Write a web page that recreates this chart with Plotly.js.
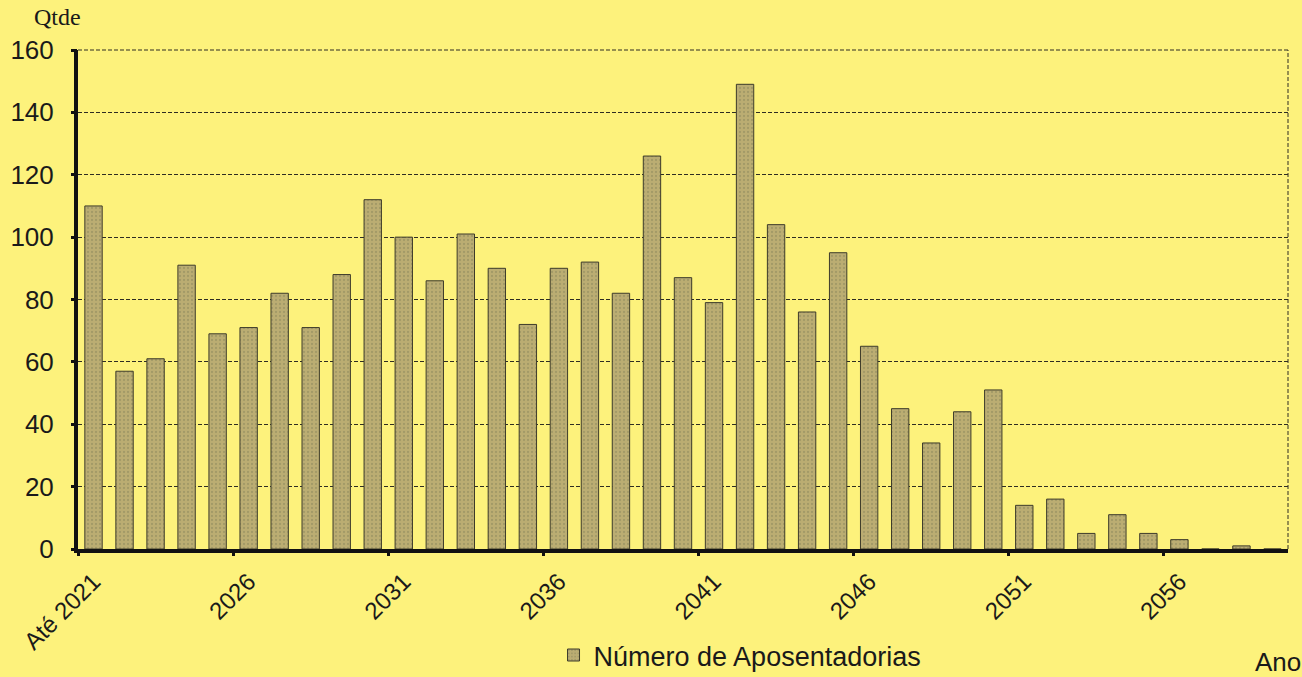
<!DOCTYPE html>
<html>
<head>
<meta charset="utf-8">
<script src="https://cdn.plot.ly/plotly-3.0.1.min.js"></script>
<style>html,body{margin:0;padding:0;background:#fdf27c;}</style>
</head>
<body>
<div id="chart" style="width:1302px;height:677px;"></div>
<script>
const categories = ["Até 2021","2022","2023","2024","2025","2026","2027","2028","2029","2030",
  "2031","2032","2033","2034","2035","2036","2037","2038","2039","2040",
  "2041","2042","2043","2044","2045","2046","2047","2048","2049","2050",
  "2051","2052","2053","2054","2055","2056","2057","2058","2059"];
const aposentadorias = [110,57,61,91,69,71,82,71,88,112,
  100,86,101,90,72,90,92,82,126,87,
  79,149,104,76,95,65,45,34,44,51,
  14,16,5,11,5,3,0,1,0];
const tickLabels = ["Até 2021","2026","2031","2036","2041","2046","2051","2056"];
const seriesName = "Número de Aposentadorias";

// tick marks sit on the left boundary of each labelled category
const boundaryTicks = tickLabels.map(l => categories.indexOf(l) - 0.5);
const xRange = [-0.5, categories.length - 0.5];
const yRange = [0, 160];

const trace = {
  type: "bar",
  x: categories,
  y: aposentadorias,
  name: seriesName,
  width: 0.56,
  marker: {
    color: "#bbad72",
    line: {color: "#3d3b2a", width: 1},
    pattern: {shape: ".", fillmode: "overlay", fgcolor: "#8a855c", size: 4, solidity: 0.25}
  },
  hoverinfo: "x+y"
};
// empty helper trace so the overlay axes (visible tick marks only) get drawn
const tickHelper = {
  type: "scatter", mode: "markers", x: [], y: [],
  xaxis: "x2", yaxis: "y2", showlegend: false, hoverinfo: "skip"
};

const font = "Liberation Sans, Arial, sans-serif";
const layout = {
  width: 1302, height: 677,
  paper_bgcolor: "#fdf27c",
  plot_bgcolor: "#fdf27c",
  margin: {l: 78, r: 14, t: 50, b: 128, autoexpand: false},
  showlegend: true,
  legend: {
    orientation: "h", x: 0.393, xanchor: "left", yref: "container", y: 0.068, yanchor: "top",
    font: {family: font, size: 27, color: "#1a1a1a"},
    bgcolor: "rgba(0,0,0,0)", itemwidth: 30
  },
  xaxis: {
    type: "category",
    automargin: false,
    tickvals: tickLabels,
    ticktext: tickLabels,
    tickangle: -45,
    ticks: "outside", ticklen: 5, tickwidth: 1, tickcolor: "rgba(0,0,0,0)",
    showline: true, linecolor: "#111", linewidth: 4,
    showgrid: false, zeroline: false,
    tickfont: {family: font, size: 24, color: "#1a1a1a"},
    range: xRange
  },
  xaxis2: {
    overlaying: "x", anchor: "y2", side: "bottom",
    range: xRange, tickvals: boundaryTicks, showticklabels: false,
    ticks: "outside", ticklen: 6, tickwidth: 3, tickcolor: "#111",
    showline: false, showgrid: false, zeroline: false, automargin: false
  },
  yaxis: {
    automargin: false,
    range: yRange, dtick: 20,
    ticks: "outside", ticklen: 15, tickwidth: 1, tickcolor: "rgba(0,0,0,0)",
    showline: true, linecolor: "#111", linewidth: 4,
    showgrid: true, gridcolor: "#2e2d22", gridwidth: 1, griddash: "4px,2px",
    zeroline: false,
    tickfont: {family: font, size: 26, color: "#1a1a1a"}
  },
  yaxis2: {
    overlaying: "y", anchor: "x2", side: "left",
    range: yRange, dtick: 20, showticklabels: false,
    ticks: "outside", ticklen: 6, tickwidth: 3, tickcolor: "#111",
    showline: false, showgrid: false, zeroline: false, automargin: false
  },
  shapes: [
    {type: "line", xref: "paper", yref: "paper", x0: 1, x1: 1, y0: 0, y1: 1,
     line: {color: "#2e2d22", width: 1, dash: "4px,2px"}},
    {type: "line", xref: "paper", yref: "paper", x0: 0, x1: 1, y0: 1, y1: 1,
     line: {color: "#2e2d22", width: 1, dash: "4px,2px"}}
  ],
  annotations: [
    {text: "Qtde", xref: "paper", yref: "paper", x: -0.017, y: 1.0, xanchor: "center", yanchor: "bottom",
     yshift: 18, showarrow: false, font: {family: "Liberation Serif, Times New Roman, serif", size: 24, color: "#1a1a1a"}},
    {text: "Ano", xref: "paper", yref: "paper", x: 1.0, y: -0.226, xanchor: "center", yanchor: "middle",
     xshift: -10, showarrow: false, font: {family: font, size: 26, color: "#1a1a1a"}}
  ]
};

Plotly.newPlot("chart", [trace, tickHelper], layout, {displayModeBar: false, staticPlot: true});
</script>
</body>
</html>
